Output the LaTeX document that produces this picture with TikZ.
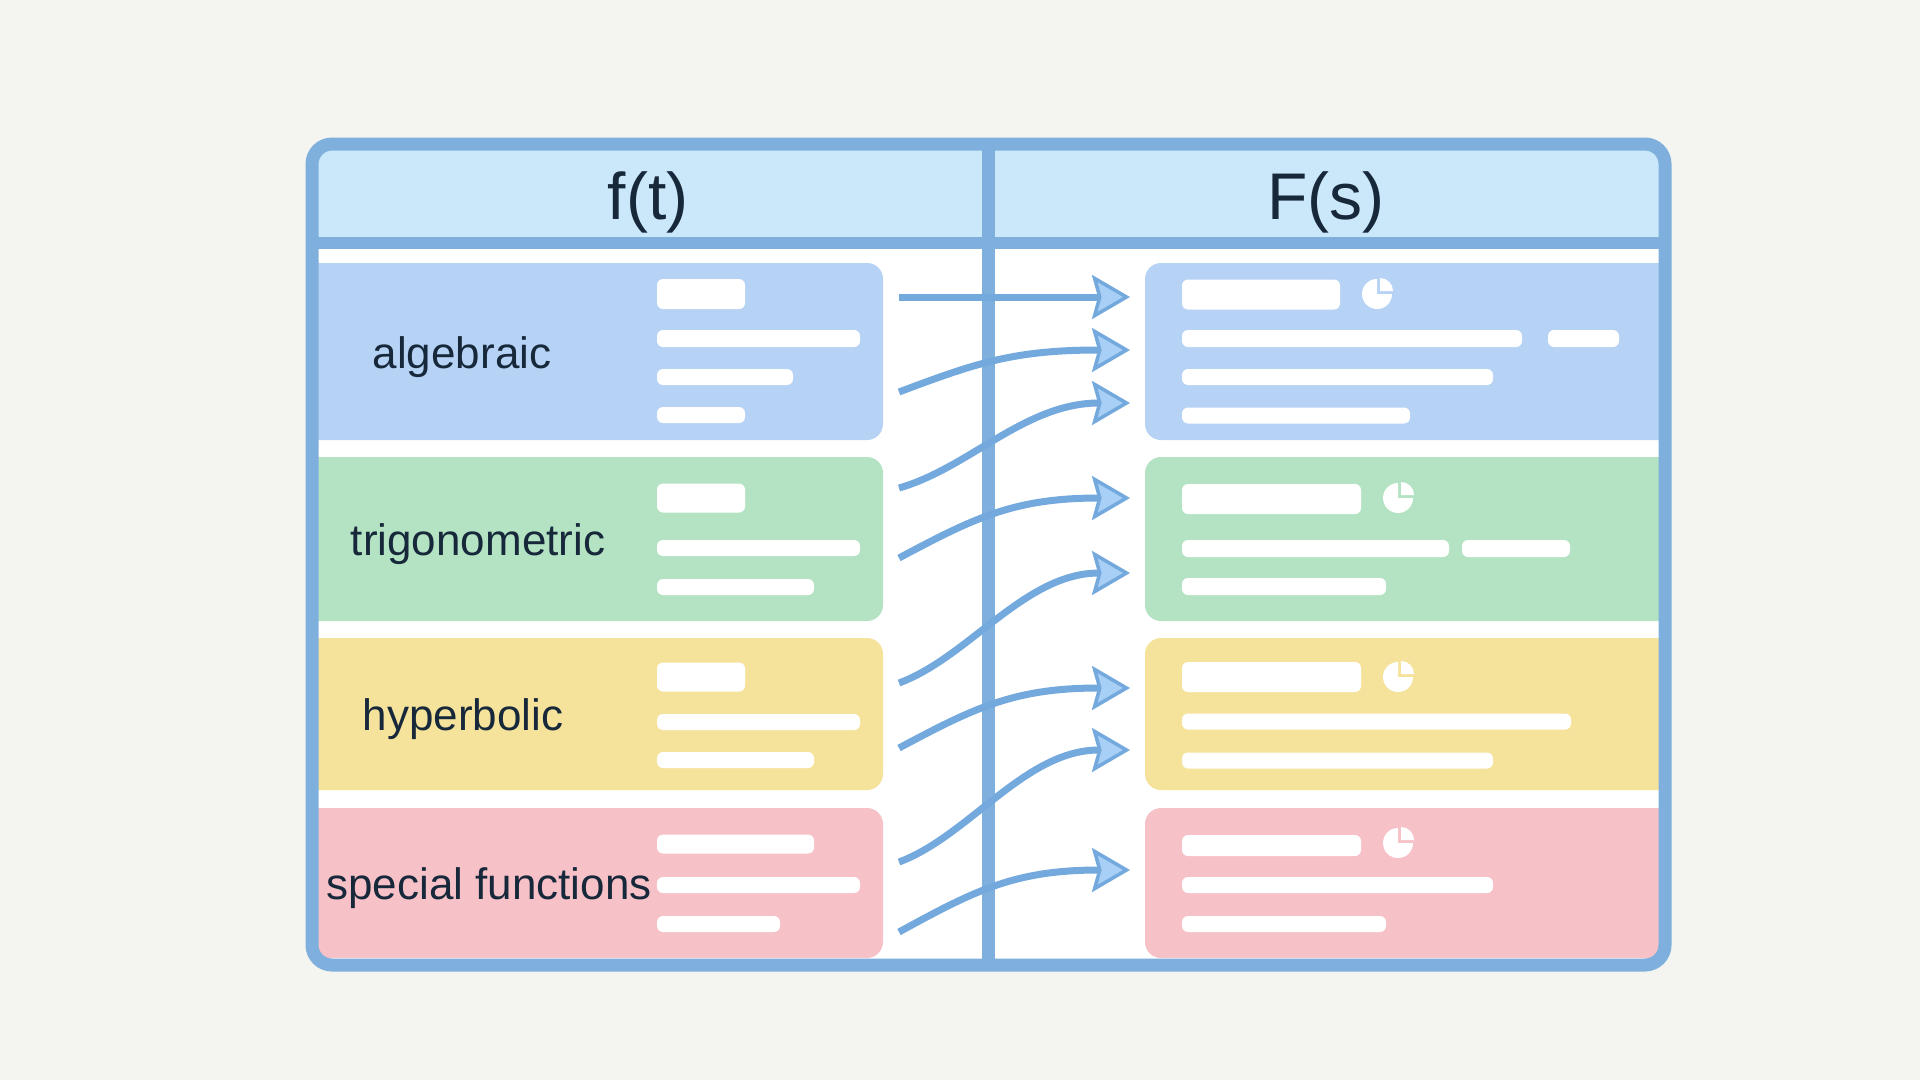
\documentclass[tikz,border=0pt]{standalone}
\usepackage{fontspec}
\setmainfont{Liberation Sans}
\usetikzlibrary{arrows.meta}
\definecolor{bgc}{HTML}{F4F5F0}
\definecolor{framec}{HTML}{7FB0DD}
\definecolor{headc}{HTML}{CBE8FA}
\definecolor{cblue}{HTML}{B6D2F5}
\definecolor{cgreen}{HTML}{B4E3C4}
\definecolor{cyellow}{HTML}{F5E39C}
\definecolor{cpink}{HTML}{F7C1C8}
\definecolor{arrowc}{HTML}{74A9DE}
\definecolor{arrowfill}{HTML}{A8CFF5}
\definecolor{textc}{HTML}{17283A}
\newcommand\wbarat[4]{\fill[wbar] (#1,#3-#4/2) rectangle (#2,#3+#4/2);}
\newcommand\pieat[2]{%
  \fill[white] (#1,#2) -- ++(0:15) arc[start angle=0,end angle=270,radius=15] -- cycle;
  \fill[white] (#1+3,#2-3) -- ++(270:13) arc[start angle=270,end angle=360,radius=13] -- cycle;}
\begin{document}
\begin{tikzpicture}[x=1pt,y=-1pt,
  wbar/.style={fill=white, rounded corners=6pt},
  cardshape/.style={rounded corners=16pt},
  lab/.style={font=\fontsize{44}{52}\selectfont, text=textc, anchor=base, inner sep=0pt},
  head/.style={font=\fontsize{66}{78}\selectfont, text=textc, anchor=base, inner sep=0pt},
  flow/.style={draw=arrowc, line width=7pt, -{Stealth[length=38pt,width=44pt,inset=6pt,line width=3.5pt,fill=arrowfill]}},
  framepen/.style={draw=framec, line width=13pt},
]
\useasboundingbox (0,0) rectangle (1920,1080);
\fill[bgc] (0,0) rectangle (1920,1080);

\begin{scope}
  \clip[rounded corners=20pt] (312,144) rectangle (1665,965);
  \fill[white] (312,144) rectangle (1665,965);
  \fill[headc] (312,144) rectangle (1665,243);
  % left cards
  \fill[cblue,cardshape]   (290,263) rectangle (883,440);
  \fill[cgreen,cardshape]  (290,457) rectangle (883,621);
  \fill[cyellow,cardshape] (290,638) rectangle (883,790);
  \fill[cpink,cardshape]   (290,808) rectangle (883,958);
  % right cards
  \fill[cblue,cardshape]   (1145,263) rectangle (1690,440);
  \fill[cgreen,cardshape]  (1145,457) rectangle (1690,621);
  \fill[cyellow,cardshape] (1145,638) rectangle (1690,790);
  \fill[cpink,cardshape]   (1145,808) rectangle (1690,958);
\end{scope}

% left bars
\wbarat{657}{745}{294}{30}
\wbarat{657}{860}{338.5}{17}
\wbarat{657}{793}{377}{16}
\wbarat{657}{745}{415}{16}
\wbarat{657}{745}{498}{29}
\wbarat{657}{860}{548}{16}
\wbarat{657}{814}{587}{16}
\wbarat{657}{745}{677}{29}
\wbarat{657}{860}{722}{16}
\wbarat{657}{814}{760}{16}
\wbarat{657}{814}{844}{19}
\wbarat{657}{860}{885}{16}
\wbarat{657}{780}{924}{16}

% right bars
\wbarat{1182}{1340}{294.5}{30}
\pieat{1377}{294}
\wbarat{1182}{1522}{338.5}{17}
\wbarat{1548}{1619}{338.5}{17}
\wbarat{1182}{1493}{377}{16}
\wbarat{1182}{1410}{415.5}{16}
\wbarat{1182}{1361}{499}{30}
\pieat{1398}{498}
\wbarat{1182}{1449}{548.5}{17}
\wbarat{1462}{1570}{548.5}{17}
\wbarat{1182}{1386}{586.5}{17}
\wbarat{1182}{1361}{677}{30}
\pieat{1398}{677}
\wbarat{1182}{1571}{721.5}{16}
\wbarat{1182}{1493}{760.5}{16}
\wbarat{1182}{1361}{845.5}{21}
\pieat{1398}{843}
\wbarat{1182}{1493}{885}{16}
\wbarat{1182}{1386}{924}{16}

% frame, separator, divider
\draw[framepen, rounded corners=20pt] (312,144) rectangle (1665,965);
\draw[framepen, line width=12pt] (312,243) -- (1665,243);
\draw[framepen] (988,144) -- (988,965);

% labels
\node[head] (ft) at (648,219) {f(t)};
\node[head] (Fs) at (1326,219) {F(s)};
\node[lab] (alg)  at (462,368) {algebraic};
\node[lab] (trig) at (478,555) {trigonometric};
\node[lab] (hyp)  at (463,730) {hyperbolic};
\node[lab] (spec) at (489,899) {special functions};

% arrow end points
\coordinate (s1) at (899,297);  \coordinate (e1) at (1130,297);
\coordinate (s2) at (899,392);  \coordinate (e2) at (1130,350);
\coordinate (s3) at (899,488);  \coordinate (e3) at (1130,403);
\coordinate (s4) at (899,558);  \coordinate (e4) at (1130,498);
\coordinate (s5) at (899,683);  \coordinate (e5) at (1130,573);
\coordinate (s6) at (899,748);  \coordinate (e6) at (1130,688);
\coordinate (s7) at (899,862);  \coordinate (e7) at (1130,750);
\coordinate (s8) at (899,932);  \coordinate (e8) at (1130,870);

\draw[flow] (s1) -- (e1);
\draw[flow] (s2) .. controls +(77,-29) and +(-116,0) .. (e2);
\draw[flow] (s3) .. controls +(70,-20) and +(-105,0) .. (e3);
\draw[flow] (s4) .. controls +(75,-40) and +(-116,0) .. (e4);
\draw[flow] (s5) .. controls +(70,-26) and +(-105,0) .. (e5);
\draw[flow] (s6) .. controls +(75,-40) and +(-116,0) .. (e6);
\draw[flow] (s7) .. controls +(70,-26) and +(-105,0) .. (e7);
\draw[flow] (s8) .. controls +(75,-41) and +(-116,0) .. (e8);
\end{tikzpicture}
\end{document}
